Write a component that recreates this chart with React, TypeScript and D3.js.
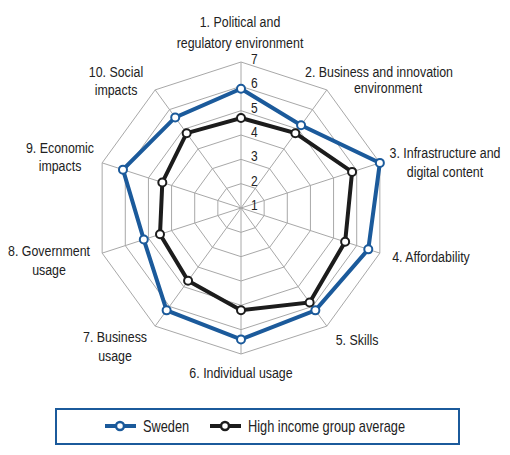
import React from "react";
import * as d3 from "d3";

const categories: string[][] = [
  ["1. Political and", "regulatory environment"],
  ["2. Business and innovation", "environment"],
  ["3. Infrastructure and", "digital content"],
  ["4. Affordability"],
  ["5. Skills"],
  ["6. Individual usage"],
  ["7. Business", "usage"],
  ["8. Government", "usage"],
  ["9. Economic", "impacts"],
  ["10. Social", "impacts"],
];
const sweden = [5.9, 5.2, 7.0, 6.5, 6.2, 6.4, 6.2, 5.2, 6.1, 5.6];
const highIncome = [4.7, 4.8, 5.8, 5.5, 5.8, 5.2, 4.7, 4.5, 4.4, 4.8];
const ticks = [1, 2, 3, 4, 5, 6, 7];
const seriesNames = ["Sweden", "High income group average"];

// label layout (text placement only)
const labelPos: { x: number[]; y: number[] }[] = [
  { x: [240, 240], y: [27, 48] },
  { x: [379, 388], y: [77, 93] },
  { x: [445, 445], y: [158, 177] },
  { x: [431], y: [262] },
  { x: [357], y: [345] },
  { x: [241], y: [378] },
  { x: [115, 115], y: [342, 361] },
  { x: [49, 49], y: [256, 275] },
  { x: [60, 60], y: [153, 171] },
  { x: [116, 116], y: [77, 95] },
];

const BLUE = "#1b5a9b";
const BLACK = "#1c1c1c";
const GRID = "#a8a8a8";
const FONT = "'Liberation Sans', Arial, sans-serif";
const SX = 0.8;

function NText(props: {
  x: number;
  y: number;
  size: number;
  anchor?: string;
  children: React.ReactNode;
}) {
  return (
    <text
      transform={`translate(${props.x},${props.y}) scale(${SX},1)`}
      textAnchor={props.anchor || "start"}
      fontSize={props.size}
      fill="#222"
    >
      {props.children}
    </text>
  );
}

export default function App() {
  const cx = 241;
  const cy = 208;
  const r = d3.scaleLinear().domain([1, 7]).range([0, 146]);
  const n = categories.length;
  const angle = d3.scaleLinear().domain([0, n]).range([0, 2 * Math.PI]);
  const pt = (i: number, v: number): [number, number] => {
    const a = angle(i);
    return [cx + r(v) * Math.sin(a), cy - r(v) * Math.cos(a)];
  };
  const line = d3.line<[number, number]>().curve(d3.curveLinearClosed);

  const series = [
    { name: seriesNames[0], values: sweden, color: BLUE },
    { name: seriesNames[1], values: highIncome, color: BLACK },
  ];

  return (
    <svg width={510} height={455} style={{ position: "absolute", left: 0, top: 0 }} fontFamily={FONT}>
      <rect width={510} height={455} fill="#fff" />
      {ticks.slice(1).map((t) => (
        <path
          key={"ring" + t}
          d={line(d3.range(n).map((i) => pt(i, t))) || ""}
          fill="none"
          stroke={GRID}
          strokeWidth={1}
        />
      ))}
      {d3.range(n).map((i) => {
        const [x, y] = pt(i, 7);
        return <line key={"sp" + i} x1={cx} y1={cy} x2={x} y2={y} stroke={GRID} strokeWidth={1} />;
      })}
      {ticks.map((t) => (
        <NText key={"t" + t} x={cx + 10} y={cy - r(t) + 2} size={15}>
          {t}
        </NText>
      ))}
      {series.map((s) => (
        <g key={s.name}>
          <path
            d={line(s.values.map((v, i) => pt(i, v))) || ""}
            fill="none"
            stroke={s.color}
            strokeWidth={4}
            strokeLinejoin="miter"
          />
          {s.values.map((v, i) => {
            const [x, y] = pt(i, v);
            return <circle key={i} cx={x} cy={y} r={4} fill="#fff" stroke={s.color} strokeWidth={2} />;
          })}
        </g>
      ))}
      {categories.map((lines, i) =>
        lines.map((txt, j) => (
          <NText
            key={"c" + i + "_" + j}
            x={labelPos[i].x[j]}
            y={labelPos[i].y[j]}
            anchor="middle"
            size={15.5}
          >
            {txt}
          </NText>
        ))
      )}
      <rect x={56} y={409} width={403} height={35} fill="none" stroke={BLUE} strokeWidth={2} />
      {series.map((s, k) => {
        const x0 = k === 0 ? 105 : 210;
        return (
          <g key={"lg" + k}>
            <line x1={x0} y1={426} x2={x0 + 31} y2={426} stroke={s.color} strokeWidth={4} />
            <circle cx={x0 + 15} cy={426} r={4} fill="#fff" stroke={s.color} strokeWidth={2.5} />
            <NText x={x0 + 38} y={432} size={16}>
              {s.name}
            </NText>
          </g>
        );
      })}
    </svg>
  );
}
